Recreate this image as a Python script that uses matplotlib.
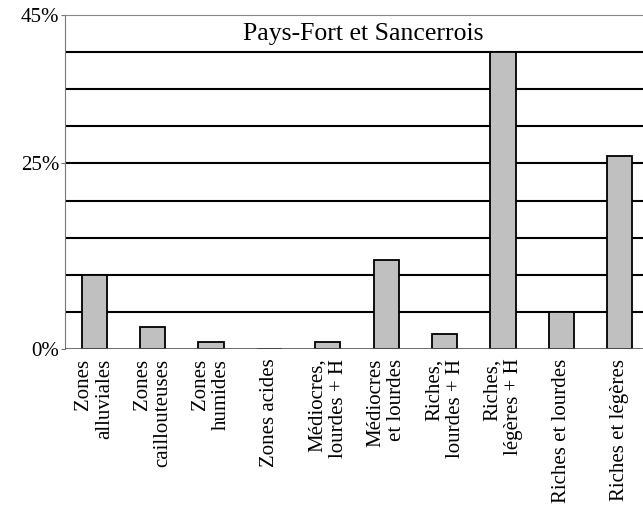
import matplotlib.pyplot as plt
import numpy as np

categories = [
    'Zones\nalluviales', 'Zones\ncaillouteuses', 'Zones\nhumides', 'Zones acides',
    'Médiocres,\nlourdes + H', 'Médiocres\net lourdes', 'Riches,\nlourdes + H',
    'Riches,\nlégères + H', 'Riches et lourdes', 'Riches et légères',
]
values = [10.0, 3.0, 1.0, 0.0, 1.0, 12.0, 2.0, 40.0, 5.0, 26.0]
ytick_vals = [0, 25, 45]
ytick_labels = ['0%', '25%', '45%']
title = 'Pays-Fort et Sancerrois'

plt.rcParams['font.family'] = ['Liberation Serif', 'DejaVu Serif']

fig = plt.figure(figsize=(6.43, 5.08), dpi=100)
ax = fig.add_axes([65 / 643, 1 - 349 / 508, 584 / 643, 334 / 508])

x = np.arange(len(categories))
ax.bar(x, values, width=0.43, color='#c0c0c0', edgecolor='black', linewidth=1.3, zorder=3)

# horizontal lines every 5 %
for g in range(5, 45, 5):
    ax.axhline(g, color='black', linewidth=1.5, zorder=2)

ax.set_xlim(-0.5, len(categories) - 0.5)
ax.set_ylim(0, 45)
ax.set_yticks(ytick_vals)
ax.set_yticklabels(ytick_labels, fontsize=15)
ax.tick_params(axis='y', length=3, color='#777777', pad=1)
ax.set_xticks(x)
ax.set_xticklabels(categories, rotation=90, fontsize=15, va='top', ha='center',
                   multialignment='right', linespacing=1.15)
ax.tick_params(axis='x', length=0, pad=7)

for side in ['right', 'bottom']:
    ax.spines[side].set_visible(False)
ax.spines['left'].set_color('#777777')
ax.spines['top'].set_color('#888888')
ax.axhline(0, color='#555555', linewidth=1.2, zorder=4)

ax.text(4.6, 42.4, title, ha='center', va='center', fontsize=18.5)

fig.savefig('out.png', dpi=100)
